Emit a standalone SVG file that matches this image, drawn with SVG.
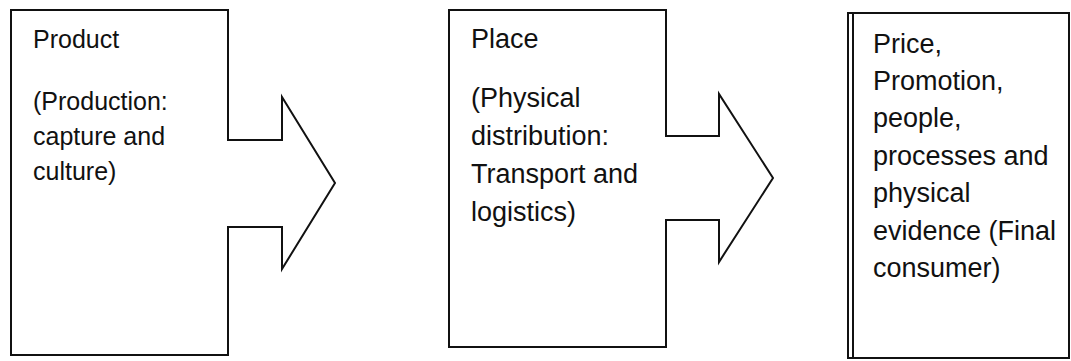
<svg xmlns="http://www.w3.org/2000/svg" width="1071" height="361" viewBox="0 0 1071 361">
<style>
.shape{fill:#fff;stroke:#111;stroke-width:2;stroke-linejoin:miter}
.t{font-family:"Liberation Sans",Arial,sans-serif;fill:#111}
.t1{font-size:25px}
.t2{font-size:27px}
</style>
<rect width="1071" height="361" fill="#fff"/>
<g id="product">
<path class="shape" d="M11,10 H228 V140 H282 V97 L335,183 L282,269 V227 H228 V355 H11 Z"/>
<text class="t t1" x="33" y="48">Product</text>
<text class="t t1" x="33" y="110">(Production:</text>
<text class="t t1" x="33" y="145">capture and</text>
<text class="t t1" x="33" y="180">culture)</text>
</g>
<g id="place">
<path class="shape" d="M449,10 H666 V136 H719 V94 L773,178 L719,262 V220 H666 V347 H449 Z"/>
<text class="t t2" x="471" y="48">Place</text>
<text class="t t2" x="471" y="107">(Physical</text>
<text class="t t2" x="471" y="145">distribution:</text>
<text class="t t2" x="471" y="183">Transport and</text>
<text class="t t2" x="471" y="221">logistics)</text>
</g>
<g id="price">
<rect class="shape" x="848" y="13" width="221" height="345"/>
<line x1="853" y1="14" x2="853" y2="357" stroke="#111" stroke-width="2"/>
<text class="t t2" x="873" y="53">Price,</text>
<text class="t t2" x="873" y="90">Promotion,</text>
<text class="t t2" x="873" y="127">people,</text>
<text class="t t2" x="873" y="165">processes and</text>
<text class="t t2" x="873" y="202">physical</text>
<text class="t t2" x="873" y="240">evidence (Final</text>
<text class="t t2" x="873" y="277">consumer)</text>
</g>
<g id="connectors"></g>
</svg>
